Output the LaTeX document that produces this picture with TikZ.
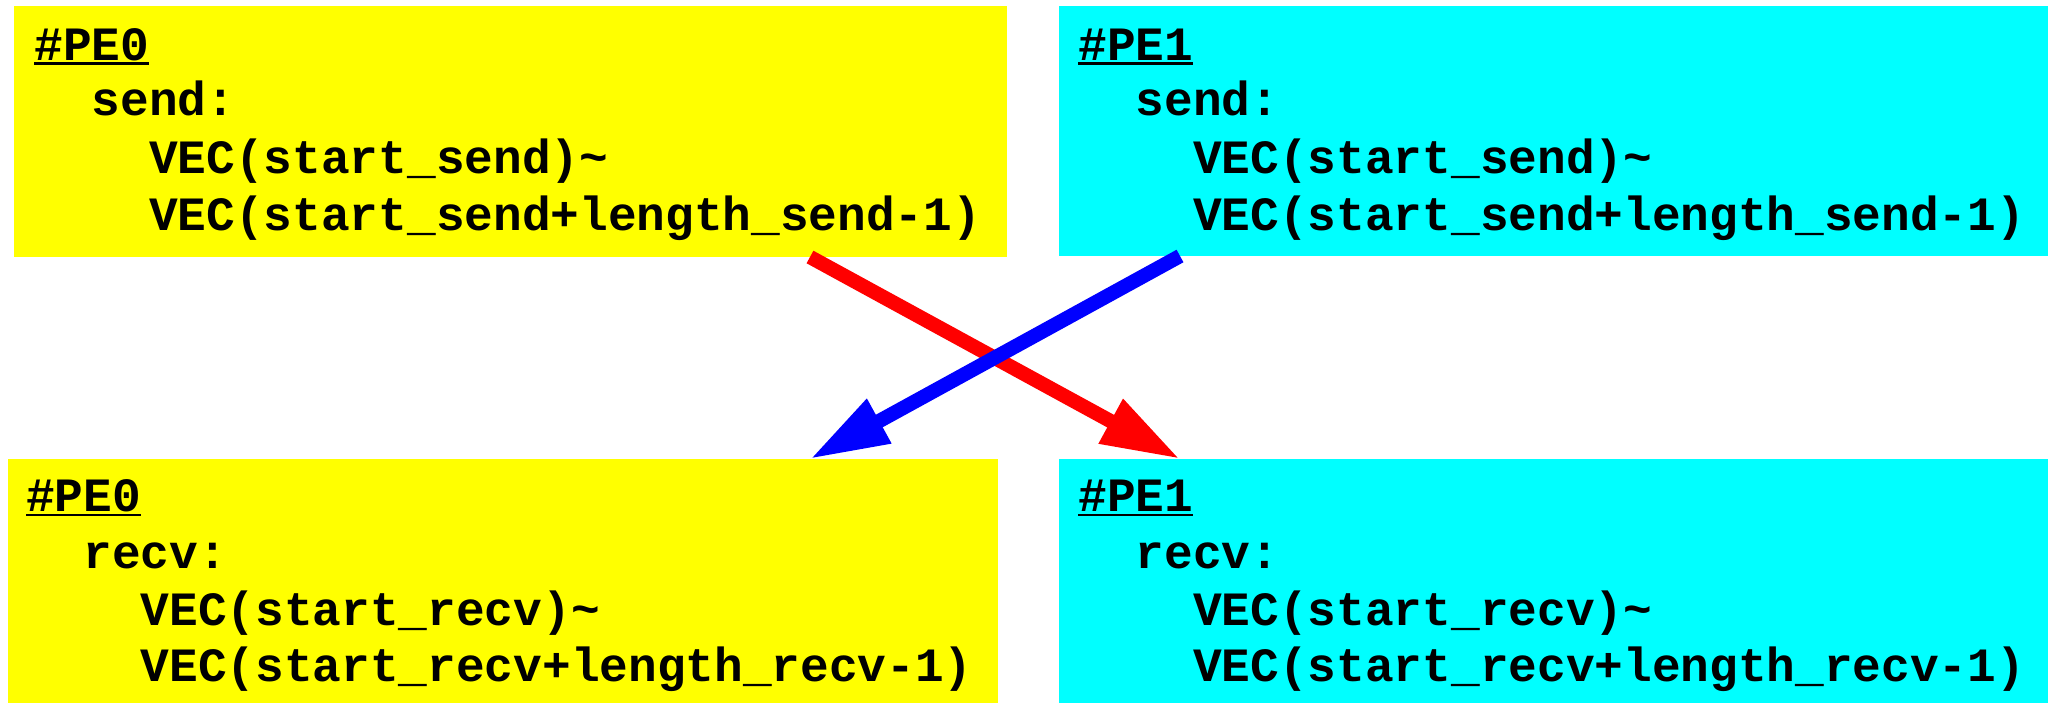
\documentclass[tikz,border=0pt]{standalone}
\usepackage{fontspec}
\setmonofont{Liberation Mono}
\usetikzlibrary{arrows.meta,calc}
\definecolor{peyellow}{RGB}{255,255,0}
\definecolor{pecyan}{RGB}{0,255,255}
\definecolor{pered}{RGB}{255,0,0}
\definecolor{peblue}{RGB}{0,0,255}
\newcommand\peul[1]{\setbox0=\hbox{#1}\rlap{\rule[-2.3pt]{\wd0}{1.15pt}}\box0}
\begin{document}
\begin{tikzpicture}[x=0.5pt,y=-0.5pt,
  box/.style={inner sep=0,outer sep=0,anchor=north west},
  ln/.style={inner sep=0,anchor=base west,font=\ttfamily\bfseries\fontsize{23.9}{28}\selectfont},
  flow/.style={line width=7.15pt,-{Triangle[length=39.5pt,width=23.5pt]}}]
\useasboundingbox (0,0) rectangle (2048,703);
% boxes
\node[box,fill=peyellow,minimum width=496.05pt,minimum height=125.5pt] (s0) at (14.4,6) {};
\node[box,fill=pecyan,minimum width=494.5pt,minimum height=125pt] (s1) at (1059,6) {};
\node[box,fill=peyellow,minimum width=495pt,minimum height=122pt] (r0) at (8,459) {};
\node[box,fill=pecyan,minimum width=494.5pt,minimum height=122pt] (r1) at (1059,459) {};
% texts PE0 send
\node[ln] (s0h) at (34,60) {\peul{\#PE0}};
\node[ln] (s0a) at (91.4,115) {send:};
\node[ln] (s0b) at (148.8,173) {VEC(start\_send)\textasciitilde};
\node[ln] (s0c) at (148.8,230) {VEC(start\_send+length\_send-1)};
% PE1 send
\node[ln] (s1h) at (1078,60) {\peul{\#PE1}};
\node[ln] (s1a) at (1135.4,115) {send:};
\node[ln] (s1b) at (1192.8,173) {VEC(start\_send)\textasciitilde};
\node[ln] (s1c) at (1192.8,230) {VEC(start\_send+length\_send-1)};
% PE0 recv
\node[ln] (r0h) at (25.6,511.7) {\peul{\#PE0}};
\node[ln] (r0a) at (83,568) {recv:};
\node[ln] (r0b) at (140.4,625) {VEC(start\_recv)\textasciitilde};
\node[ln] (r0c) at (140.4,681.7) {VEC(start\_recv+length\_recv-1)};
% PE1 recv
\node[ln] (r1h) at (1078,511.7) {\peul{\#PE1}};
\node[ln] (r1a) at (1135.4,568) {recv:};
\node[ln] (r1b) at (1192.8,625) {VEC(start\_recv)\textasciitilde};
\node[ln] (r1c) at (1192.8,681.7) {VEC(start\_recv+length\_recv-1)};
% arrows
\coordinate (rs) at ($(s0.south west)+(795.6,0)$);
\coordinate (rt) at ($(r1.north west)+(121,0)$);
\coordinate (bs) at ($(s1.south west)+(121,0)$);
\coordinate (bt) at ($(r0.north west)+(802,0)$);
\draw[flow,pered] (rs) -- (rt);
\draw[flow,peblue] (bs) -- (bt);
\end{tikzpicture}
\end{document}
